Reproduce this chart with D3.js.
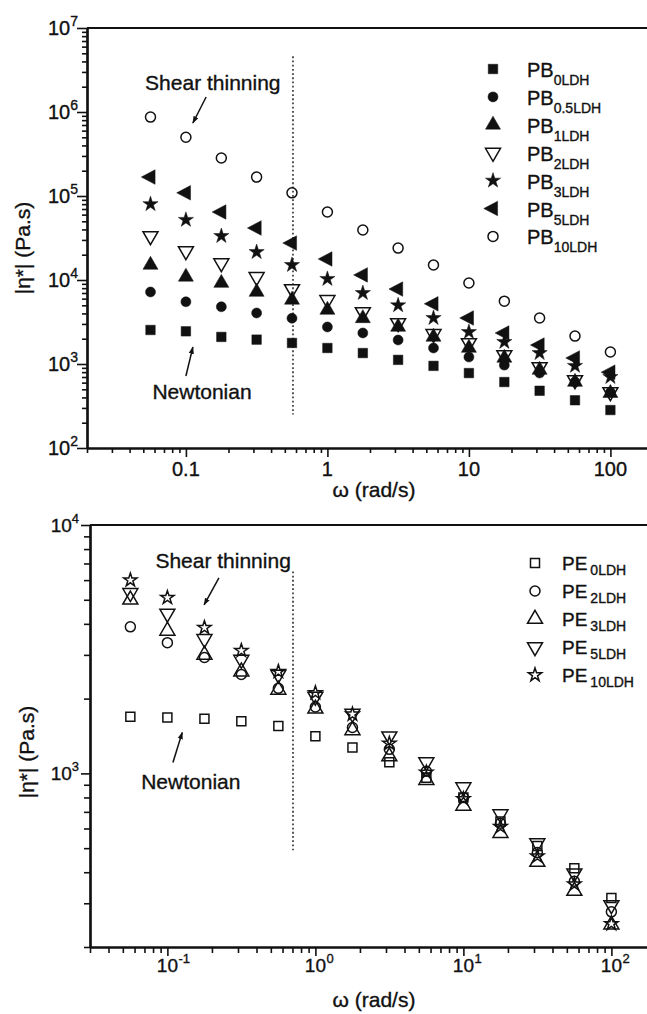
<!DOCTYPE html>
<html>
<head>
<meta charset="utf-8">
<script src="https://cdn.jsdelivr.net/npm/d3@7"></script>
<style>
  html, body { margin: 0; padding: 0; background: #fff; }
  svg { display: block; font-family: "Liberation Sans", Arial, Helvetica, sans-serif; }
  svg text { stroke: #111; stroke-width: 0.35px; }
</style>
</head>
<body>
<svg id="fig" width="647" height="1014"></svg>
<script>
// Angular frequency of the sweep (rad/s), shared by both panels
const omega = [0.0562, 0.1, 0.178, 0.316, 0.562, 1, 1.78, 3.16, 5.62, 10, 17.8, 31.6, 56.2, 100];

// Complex viscosity |η*| (Pa.s), PB composites
const pb0LDH   = [2540, 2450, 2100, 1950, 1780, 1550, 1350, 1120, 950, 780, 610, 480, 370, 283];
const pb05LDH  = [7200, 5500, 4800, 4050, 3500, 2760, 2340, 1930, 1550, 1210, 970, 780, 610, 460];
const pb1LDH   = [15100, 10900, 9200, 7200, 5800, 4400, 3500, 2760, 2100, 1550, 1180, 850, 610, 450];
const pb2LDH   = [33400, 22100, 15900, 10900, 7800, 5800, 4160, 3080, 2280, 1780, 1280, 920, 645, 464];
const pb3LDH   = [80000, 52000, 33400, 21500, 15100, 10300, 7000, 5000, 3530, 2400, 1830, 1350, 950, 700];
const pb5LDH   = [168000, 109000, 64500, 41600, 27500, 17800, 11500, 7800, 5200, 3530, 2340, 1680, 1180, 800];
const pb10LDH  = [870000, 500000, 283000, 168000, 109000, 64500, 39400, 24000, 15100, 9200, 5600, 3530, 2150, 1390];
const pbSubs   = ["0LDH", "0.5LDH", "1LDH", "2LDH", "3LDH", "5LDH", "10LDH"];

// Complex viscosity |η*| (Pa.s), PE composites
const pe0LDH   = [1690, 1680, 1660, 1620, 1550, 1410, 1270, 1110, 960, 800, 640, 510, 415, 315];
const pe2LDH   = [3890, 3360, 2930, 2500, 2200, 1850, 1530, 1250, 1020, 800, 630, 480, 368, 277];
const pe3LDH   = [5000, 3750, 3000, 2570, 2170, 1820, 1490, 1170, 940, 740, 575, 440, 336, 246];
const pe5LDH   = [5330, 4400, 3480, 2870, 2500, 2040, 1740, 1410, 1110, 880, 685, 524, 396, 295];
const pe10LDH  = [6000, 5100, 3860, 3120, 2570, 2110, 1730, 1320, 1010, 790, 610, 464, 358, 248];
const peSubs   = ["0LDH", "2LDH", "3LDH", "5LDH", "10LDH"];

// Tick labels
const topXTickLabels = ["0.1", "1", "10", "100"];
const topYTickExps = [2, 3, 4, 5, 6, 7];
const botXTickExps = [-1, 0, 1, 2];
const botYTickExps = [3, 4];

const ink = "#111";
const svg = d3.select("#fig");
svg.append("rect").attr("width", 647).attr("height", 1014).attr("fill", "#fff");

// ---------- marker shapes (size = square of the characteristic length) ----------
const shapeSquare = { draw(c, size) { const s = Math.sqrt(size) / 2; c.rect(-s, -s, 2 * s, 2 * s); } };
const shapeCircle = { draw(c, size) { const r = Math.sqrt(size) / 2; c.moveTo(r, 0); c.arc(0, 0, r, 0, 2 * Math.PI); } };
const shapeUp = { draw(c, size) { const w = Math.sqrt(size), h = w * 0.866;
  c.moveTo(0, -h * 2 / 3); c.lineTo(w / 2, h / 3); c.lineTo(-w / 2, h / 3); c.closePath(); } };
const shapeDown = { draw(c, size) { const w = Math.sqrt(size), h = w * 0.866;
  c.moveTo(0, h * 2 / 3); c.lineTo(w / 2, -h / 3); c.lineTo(-w / 2, -h / 3); c.closePath(); } };
const shapeLeft = { draw(c, size) { const v = Math.sqrt(size), d = v * 0.95;
  c.moveTo(-d * 2 / 3, 0); c.lineTo(d / 3, -v / 2); c.lineTo(d / 3, v / 2); c.closePath(); } };
const shapeStar = { draw(c, size) { const r = Math.sqrt(size) / 2; d3.symbolStar.draw(c, r * r / 0.8908130915292852); } };

function markerPath(type, len) { return d3.symbol().type(type).size(len * len)(); }

// ---------- helpers ----------
function drawAxes(g, x, y, o) {
  const xs = x.ticks().filter(v => v >= x.domain()[0] * 0.999);
  const isMajor = v => Math.abs(Math.log10(v) - Math.round(Math.log10(v))) < 1e-6;
  const ys = y.ticks();
  const ax = (axis, vals, size, tr) => {
    const a = g.append("g").attr("transform", tr)
      .call(axis.tickValues(vals).tickSize(size).tickSizeOuter(0).tickFormat(""));
    a.selectAll(".tick line").attr("stroke", ink).attr("stroke-width", 1.6);
    a.select(".domain").attr("stroke", ink).attr("stroke-width", 2.2);
    return a;
  };
  ax(d3.axisBottom(x), xs.filter(v => !isMajor(v)), o.minor, `translate(0,${y.range()[0]})`);
  ax(d3.axisBottom(x), xs.filter(isMajor), o.majorX, `translate(0,${y.range()[0]})`);
  ax(d3.axisLeft(y), ys.filter(v => !isMajor(v)), o.minor, `translate(${x.range()[0]},0)`);
  ax(d3.axisLeft(y), ys.filter(isMajor), o.majorY, `translate(${x.range()[0]},0)`);
  // top border
  g.append("line").attr("x1", x.range()[0]).attr("x2", 647)
    .attr("y1", y.range()[1]).attr("y2", y.range()[1])
    .attr("stroke", ink).attr("stroke-width", 2.2);
}

function powerLabelLeft(g, xEnd, yPix, exp, big, small) {
  const t = g.append("text").attr("x", xEnd).attr("y", yPix + 7)
    .attr("text-anchor", "end").attr("fill", ink);
  t.append("tspan").attr("font-size", big).text("10");
  t.append("tspan").attr("font-size", small).attr("dy", -9).text(exp);
}

function powerLabelBelow(g, xPix, base, exp, big, small) {
  const t = g.append("text").attr("x", xPix).attr("y", base)
    .attr("text-anchor", "middle").attr("font-size", big).attr("fill", ink).text("10");
  const w = t.node().getComputedTextLength();
  g.append("text").attr("x", xPix + w / 2 + 0.5).attr("y", base - 9)
    .attr("font-size", small).attr("fill", ink).text(exp);
}

function arrowLine(g, x, y, from, to) {
  g.append("line")
    .attr("x1", x(from[0])).attr("y1", y(from[1]))
    .attr("x2", x(to[0])).attr("y2", y(to[1]))
    .attr("stroke", ink).attr("stroke-width", 1.5)
    .attr("marker-end", "url(#head)");
}

svg.append("defs").append("marker")
  .attr("id", "head").attr("viewBox", "0 0 10 10").attr("refX", 9).attr("refY", 5)
  .attr("markerWidth", 5).attr("markerHeight", 5).attr("orient", "auto")
  .attr("markerUnits", "strokeWidth")
  .append("path").attr("d", "M0,1.5 L10,5 L0,8.5 Z").attr("fill", ink);

function drawSeries(g, x, y, vals, spec) {
  g.append("g").selectAll("path").data(omega.map((w, i) => [w, vals[i]]))
    .join("path")
    .attr("transform", d => `translate(${x(d[0])},${y(d[1])})`)
    .attr("d", markerPath(spec.type, spec.len))
    .attr("fill", spec.open ? "none" : ink)
    .attr("stroke", ink)
    .attr("stroke-width", spec.open ? 1.5 : 0.5);
}

// ================= Upper panel: PB =================
{
  const x = d3.scaleLog().domain([0.02, 200]).range([87, 87 + 4 * 141.5]);
  const y = d3.scaleLog().domain([1e2, 1e7]).range([448, 28]);
  const g = svg.append("g");

  drawAxes(g, x, y, { minor: 5, majorX: 9, majorY: 10 });

  [0.1, 1, 10, 100].forEach((v, i) => {
    g.append("text").attr("x", x(v)).attr("y", 476).attr("text-anchor", "middle")
      .attr("font-size", 20).attr("fill", ink).text(topXTickLabels[i]);
  });
  topYTickExps.forEach(e => powerLabelLeft(g, 78, y(Math.pow(10, e)), String(e), 20, 14));

  g.append("text").attr("x", 374).attr("y", 497).attr("text-anchor", "middle")
    .attr("font-size", 21).attr("fill", ink).text("ω (rad/s)");
  g.append("text").attr("transform", "translate(30,248) rotate(-90)")
    .attr("text-anchor", "middle").attr("font-size", 21).attr("fill", ink).text("|η*| (Pa.s)");

  // boundary between Newtonian plateau and shear thinning
  g.append("line").attr("x1", x(0.571)).attr("x2", x(0.571))
    .attr("y1", y(4.6e6)).attr("y2", y(250))
    .attr("stroke", "#555").attr("stroke-width", 2).attr("stroke-dasharray", "1.8 2.4");

  const specs = [
    { vals: pb0LDH,  type: shapeSquare, len: 9.5, open: false },
    { vals: pb05LDH, type: shapeCircle, len: 10,  open: false },
    { vals: pb1LDH,  type: shapeUp,     len: 15,  open: false },
    { vals: pb2LDH,  type: shapeDown,   len: 15,  open: true  },
    { vals: pb3LDH,  type: shapeStar,   len: 16,  open: false },
    { vals: pb5LDH,  type: shapeLeft,   len: 14.5, open: false },
    { vals: pb10LDH, type: shapeCircle, len: 10,  open: true  }
  ];
  specs.forEach(s => drawSeries(g, x, y, s.vals, s));

  // annotations
  g.append("text").attr("x", x(0.155)).attr("y", y(1.83e6)).attr("text-anchor", "middle")
    .attr("font-size", 21).attr("fill", ink).text("Shear thinning");
  arrowLine(g, x, y, [0.139, 1.51e6], [0.112, 7.4e5]);
  g.append("text").attr("x", x(0.130)).attr("y", y(383)).attr("text-anchor", "middle")
    .attr("font-size", 21).attr("fill", ink).text("Newtonian");
  arrowLine(g, x, y, [0.1, 719], [0.112, 1590]);

  // legend
  specs.forEach((s, i) => {
    const ry = 69 + i * 27.9;
    g.append("path").attr("transform", `translate(493,${ry})`)
      .attr("d", markerPath(s.type, s.len))
      .attr("fill", s.open ? "none" : ink).attr("stroke", ink)
      .attr("stroke-width", s.open ? 1.5 : 0.5);
    const t = g.append("text").attr("x", 527).attr("y", ry + 8).attr("fill", ink);
    t.append("tspan").attr("font-size", 20).text("PB");
    t.append("tspan").attr("font-size", 14).attr("dy", 8).text(pbSubs[i]);
  });
}

// ================= Lower panel: PE =================
{
  const x = d3.scaleLog().domain([0.03, 300]).range([90, 90 + 4 * 148]);
  const y = d3.scaleLog().domain([200, 1e4]).range([947, 525]);
  const g = svg.append("g");

  drawAxes(g, x, y, { minor: 6, majorX: 9, majorY: 9 });

  botXTickExps.forEach(e => powerLabelBelow(g, x(Math.pow(10, e)), 972, String(e), 19, 13));
  botYTickExps.forEach(e => powerLabelLeft(g, 79, y(Math.pow(10, e)), String(e), 19, 13));

  g.append("text").attr("x", 374).attr("y", 1007).attr("text-anchor", "middle")
    .attr("font-size", 21).attr("fill", ink).text("ω (rad/s)");
  g.append("text").attr("transform", "translate(34,752) rotate(-90)")
    .attr("text-anchor", "middle").attr("font-size", 21).attr("fill", ink).text("|η*| (Pa.s)");

  g.append("line").attr("x1", x(0.706)).attr("x2", x(0.706))
    .attr("y1", y(6500)).attr("y2", y(490))
    .attr("stroke", "#555").attr("stroke-width", 2).attr("stroke-dasharray", "1.8 2.4");

  const specs = [
    { vals: pe0LDH,  type: shapeSquare, len: 9,  open: true },
    { vals: pe2LDH,  type: shapeCircle, len: 10, open: true },
    { vals: pe3LDH,  type: shapeUp,     len: 15, open: true },
    { vals: pe5LDH,  type: shapeDown,   len: 15, open: true },
    { vals: pe10LDH, type: shapeStar,   len: 14, open: true }
  ];
  specs.forEach(s => drawSeries(g, x, y, s.vals, s));

  g.append("text").attr("x", x(0.238)).attr("y", y(6720)).attr("text-anchor", "middle")
    .attr("font-size", 21).attr("fill", ink).text("Shear thinning");
  arrowLine(g, x, y, [0.223, 6130], [0.177, 4770]);
  g.append("text").attr("x", x(0.144)).attr("y", y(862)).attr("text-anchor", "middle")
    .attr("font-size", 21).attr("fill", ink).text("Newtonian");
  arrowLine(g, x, y, [0.109, 1107], [0.126, 1462]);

  specs.forEach((s, i) => {
    const ry = 563 + i * 28;
    g.append("path").attr("transform", `translate(535,${ry})`)
      .attr("d", markerPath(s.type, s.len))
      .attr("fill", "none").attr("stroke", ink).attr("stroke-width", 1.5);
    const t = g.append("text").attr("x", 562).attr("y", ry + 7).attr("fill", ink);
    t.append("tspan").attr("font-size", 19).text("PE");
    t.append("tspan").attr("font-size", 14).attr("dx", 3).attr("dy", 5).text(peSubs[i]);
  });
}
</script>
</body>
</html>
